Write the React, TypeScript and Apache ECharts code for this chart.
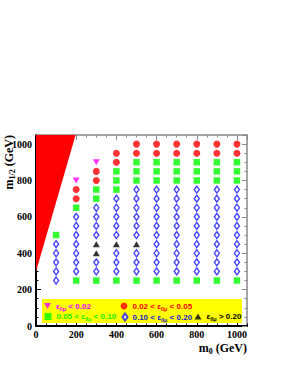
import React, { useEffect, useRef } from "react";
import * as echarts from "echarts";

// axis ranges / ticks (GeV)
const AXIS_MIN = 0;
const AXIS_MAX = 1050;
const MAJOR_STEP = 200;
const MINOR_STEP = 50;

// excluded (red) region boundary, [m0, m1/2]
const excludedRegion = [
  [0, 300],
  [0, 1050],
  [197, 1050],
];

// eps_llmu < 0.02
const epsBelow002 = [
  [200, 800],
  [300, 900],
];

// 0.02 < eps < 0.05
const eps002to005 = [
  [200, 700], [200, 750],
  [300, 800], [300, 850],
  [400, 900], [400, 950],
  [500, 950], [500, 1000],
  [600, 950], [600, 1000],
  [700, 950], [700, 1000],
  [800, 950], [800, 1000],
  [900, 950], [900, 1000],
  [1000, 950], [1000, 1000],
];

// 0.05 < eps < 0.10
const eps005to010 = [
  [100, 500],
  [200, 250], [200, 650],
  [300, 250], [300, 700], [300, 750],
  [400, 250], [400, 750], [400, 800], [400, 850],
  [500, 250], [500, 800], [500, 850], [500, 900],
  [600, 250], [600, 800], [600, 850], [600, 900],
  [700, 250], [700, 800], [700, 850], [700, 900],
  [800, 250], [800, 800], [800, 850], [800, 900],
  [900, 250], [900, 800], [900, 850], [900, 900],
  [1000, 250], [1000, 800], [1000, 850], [1000, 900],
];

// 0.10 < eps < 0.20
const eps010to020 = [
  [100, 250], [100, 300], [100, 350], [100, 400], [100, 450],
  [200, 300], [200, 350], [200, 400], [200, 450], [200, 500], [200, 550], [200, 600],
  [300, 300], [300, 350], [300, 500], [300, 550], [300, 600], [300, 650],
  [400, 300], [400, 350], [400, 400], [400, 500], [400, 550], [400, 600], [400, 650], [400, 700],
  [500, 300], [500, 350], [500, 400], [500, 500], [500, 550], [500, 600], [500, 650], [500, 700], [500, 750],
  [600, 300], [600, 350], [600, 400], [600, 450], [600, 500], [600, 550], [600, 600], [600, 650], [600, 700], [600, 750],
  [700, 300], [700, 350], [700, 400], [700, 450], [700, 500], [700, 550], [700, 600], [700, 650], [700, 700], [700, 750],
  [800, 300], [800, 350], [800, 400], [800, 450], [800, 500], [800, 550], [800, 600], [800, 650], [800, 700], [800, 750],
  [900, 300], [900, 350], [900, 400], [900, 450], [900, 500], [900, 550], [900, 600], [900, 650], [900, 700], [900, 750],
  [1000, 300], [1000, 350], [1000, 400], [1000, 450], [1000, 500], [1000, 550], [1000, 600], [1000, 650], [1000, 700], [1000, 750],
];

// eps > 0.20
const epsAbove020 = [
  [300, 400], [300, 450],
  [400, 450],
  [500, 450],
];

const NAME_A = "ε_llμ < 0.02";
const NAME_B = "0.02 < ε_llμ < 0.05";
const NAME_C = "0.05 < ε_llμ < 0.10";
const NAME_D = "0.10 < ε_llμ < 0.20";
const NAME_E = "ε_llμ > 0.20";

const SERIF = "'Liberation Serif', 'Times New Roman', serif";
const SANS = "'Liberation Sans', Arial, sans-serif";

function richFor(color: string) {
  return {
    t: { color, fontFamily: SANS, fontWeight: "bold", fontSize: 8, lineHeight: 11 },
    s: { color, fontFamily: SANS, fontWeight: "bold", fontSize: 5.5, lineHeight: 5, verticalAlign: "bottom" },
  };
}

function legendText(name: string) {
  const parts = name.split("ε_llμ");
  return "{t|" + parts[0] + "ε}{s|llμ}{t|" + parts[1] + "}";
}

function makeLegend(item: any, color: string, left: number, top: number, w: number, h: number) {
  return {
    show: true,
    data: [item],
    left,
    top,
    padding: 0,
    itemWidth: w,
    itemHeight: h,
    selectedMode: false,
    z: 10,
    formatter: (n: string) => legendText(n),
    textStyle: { color, fontFamily: SANS, fontWeight: "bold", fontSize: 8, rich: richFor(color) },
  };
}

const plainNumber = (v: number) => String(v);

function xAxisDef(position: "bottom" | "top", step: number, len: number, color: string, lineW: number, labels: boolean) {
  return {
    type: "value",
    position,
    min: AXIS_MIN,
    max: AXIS_MAX,
    interval: step,
    axisLine: { show: lineW > 0, onZero: false, lineStyle: { color, width: lineW } },
    axisTick: { show: true, inside: true, length: len, lineStyle: { color, width: 1 } },
    axisLabel: {
      show: labels,
      showMaxLabel: false,
      formatter: plainNumber,
      margin: 3,
      color: "#000",
      fontFamily: SERIF,
      fontWeight: "bold",
      fontSize: 10,
    },
    splitLine: { show: false },
  };
}

function yAxisDef(position: "left" | "right", step: number, len: number, color: string, lineW: number, labels: boolean) {
  return {
    type: "value",
    position,
    min: AXIS_MIN,
    max: AXIS_MAX,
    interval: step,
    axisLine: { show: lineW > 0, onZero: false, lineStyle: { color, width: lineW } },
    axisTick: { show: true, inside: true, length: len, lineStyle: { color, width: 1 } },
    axisLabel: {
      show: labels,
      showMaxLabel: false,
      formatter: plainNumber,
      margin: 4,
      color: "#000",
      fontFamily: SERIF,
      fontWeight: "bold",
      fontSize: 10,
    },
    splitLine: { show: false },
  };
}

export default function App() {
  const ref = useRef<HTMLDivElement>(null);

  useEffect(() => {
    if (!ref.current) return;
    const chart = echarts.init(ref.current, undefined, { renderer: "svg" });

    const titleRich = {
      m: { fontFamily: SERIF, fontWeight: "bold", fontSize: 12, fill: "#000", lineHeight: 14 },
      s: { fontFamily: SERIF, fontWeight: "bold", fontSize: 8, fill: "#000", lineHeight: 8, verticalAlign: "bottom" },
    };

    const option: any = {
      animation: false,
      backgroundColor: "#ffffff",
      grid: { left: 36, right: 48, top: 135, bottom: 56, containLabel: false },
      xAxis: [
        xAxisDef("bottom", MAJOR_STEP, 5, "#000", 2, true),
        xAxisDef("bottom", MINOR_STEP, 2.5, "#000", 0, false),
        xAxisDef("top", MAJOR_STEP, 5, "#888", 1.5, false),
        xAxisDef("top", MINOR_STEP, 2.5, "#888", 0, false),
      ],
      yAxis: [
        yAxisDef("left", MAJOR_STEP, 5, "#000", 2, true),
        yAxisDef("left", MINOR_STEP, 2.5, "#000", 0, false),
        yAxisDef("right", MAJOR_STEP, 5, "#888", 1.5, false),
        yAxisDef("right", MINOR_STEP, 2.5, "#888", 0, false),
      ],
      legend: [
        makeLegend({ name: NAME_A, icon: "path://M0,0L10,0L5,8.6Z" }, "#ff00ff", 44, 302, 7, 6),
        makeLegend(NAME_B, "#ff0000", 120.5, 302, 7, 7),
        makeLegend(NAME_C, "#22ee00", 44.5, 312.5, 7, 7),
        makeLegend(NAME_D, "#2020d0", 121.5, 312.5, 5, 7),
        makeLegend(NAME_E, "#000000", 194.5, 312.5, 7, 6),
      ],
      graphic: [
        {
          type: "rect",
          z: 5,
          shape: { x: 42, y: 299, width: 200, height: 24 },
          style: { fill: "#ffff00" },
          silent: true,
        },
        {
          type: "text",
          z: 5,
          x: 9,
          y: 135,
          rotation: Math.PI / 2,
          style: {
            text: "{m|m}{s|1/2}{m| (GeV)}",
            rich: titleRich,
            align: "right",
            verticalAlign: "middle",
          },
        },
        {
          type: "text",
          z: 5,
          x: 247,
          y: 348,
          style: {
            text: "{m|m}{s|0}{m| (GeV)}",
            rich: titleRich,
            align: "right",
            verticalAlign: "middle",
          },
        },
      ],
      series: [
        {
          type: "custom",
          name: "excluded",
          coordinateSystem: "cartesian2d",
          clip: true,
          silent: true,
          z: 1,
          data: excludedRegion,
          renderItem: (params: any, api: any) => {
            if (params.dataIndex !== 0) return null;
            const pts = excludedRegion.map((p) => api.coord(p));
            return { type: "polygon", shape: { points: pts }, style: { fill: "#ff0000" } };
          },
        },
        {
          type: "scatter",
          name: NAME_A,
          data: epsBelow002,
          symbol: "triangle",
          symbolRotate: 180,
          symbolSize: [7, 6],
          itemStyle: { color: "#ff00ff" },
          z: 3,
        },
        {
          type: "scatter",
          name: NAME_B,
          data: eps002to005,
          symbol: "circle",
          symbolSize: 7,
          itemStyle: { color: "#ff0000" },
          z: 3,
        },
        {
          type: "scatter",
          name: NAME_C,
          data: eps005to010,
          symbol: "rect",
          symbolSize: 6.5,
          itemStyle: { color: "#00ff00" },
          z: 3,
        },
        {
          type: "scatter",
          name: NAME_D,
          data: eps010to020,
          symbol: "diamond",
          symbolSize: [5, 7],
          itemStyle: { color: "#ffffff", borderColor: "#1414ff", borderWidth: 1.4 },
          z: 3,
        },
        {
          type: "scatter",
          name: NAME_E,
          data: epsAbove020,
          symbol: "triangle",
          symbolSize: [7, 6],
          itemStyle: { color: "#000000" },
          z: 3,
        },
      ],
    };

    chart.setOption(option);
    return () => chart.dispose();
  }, []);

  return (
    <div
      ref={ref}
      style={{ position: "fixed", left: 0, top: 0, width: 295, height: 382, background: "#fff" }}
    />
  );
}
